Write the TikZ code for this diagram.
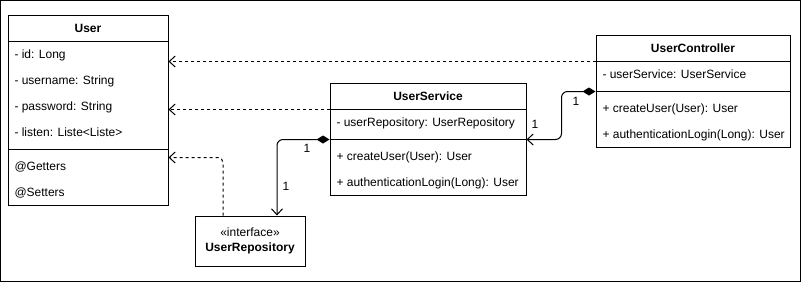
\documentclass[tikz,border=0pt]{standalone}
\usepackage{fontspec}
\setmainfont{Liberation Sans}
\usetikzlibrary{arrows.meta}

\begin{document}
\begin{tikzpicture}[x=1pt, y=-1pt, line width=1pt,
    every node/.style={font=\fontsize{12}{15}\selectfont},
    classhead/.style={draw, minimum height=26pt, inner sep=0pt, font=\fontsize{12}{15}\selectfont\bfseries},
    classbody/.style={draw, inner sep=0pt},
    member/.style={anchor=west, inner sep=0pt, text height=10.5pt, text depth=2.5pt},
    mult/.style={inner sep=0pt},
    depends/.style={dash pattern=on 3pt off 3pt, -{Straight Barb[length=6pt,width=11pt]}, rounded corners=5pt},
    owns/.style={{Diamond[length=13pt,width=8pt]}-{Straight Barb[length=6pt,width=11pt]}, rounded corners=6pt}
]
\useasboundingbox (0,0) rectangle (801,282);
\draw (0.5,0.5) rectangle (800.5,281.5);

\node[classhead, minimum width=160pt] (user) at (88,28) {User};
\node[classbody, minimum width=160pt, minimum height=108pt] (user-attr) at (88,95) {};
\node[classbody, minimum width=160pt, minimum height=56pt] (user-meth) at (88,177) {};
\node[member] (user-id) at (14,54) {- id: Long};
\node[member] (user-name) at (14,80) {- username: String};
\node[member] (user-pw) at (14,106) {- password: String};
\node[member] (user-list) at (14,132) {- listen: Liste<Liste>};
\node[member] (user-get) at (14,166) {@Getters};
\node[member] (user-set) at (14,192) {@Setters};

\node[classhead, minimum width=196pt] (svc) at (428,96) {UserService};
\node[classbody, minimum width=196pt, minimum height=30pt] (svc-attr) at (428,124) {};
\node[classbody, minimum width=196pt, minimum height=56pt] (svc-meth) at (428,167) {};
\node[member] (svc-repo) at (336,122) {- userRepository: UserRepository};
\node[member] (svc-create) at (336,156) {+ createUser(User): User};
\node[member] (svc-login) at (336,182) {+ authenticationLogin(Long): User};

\node[classhead, minimum width=194pt] (ctrl) at (693,48) {UserController};
\node[classbody, minimum width=194pt, minimum height=30pt] (ctrl-attr) at (693,76) {};
\node[classbody, minimum width=194pt, minimum height=56pt] (ctrl-meth) at (693,119) {};
\node[member] (ctrl-svc) at (602,74) {- userService: UserService};
\node[member] (ctrl-create) at (602,108) {+ createUser(User): User};
\node[member] (ctrl-login) at (602,134) {+ authenticationLogin(Long): User};

\node[draw, minimum width=110pt, minimum height=50pt, align=center] (repo) at (250,241)
    {«interface»\\\textbf{UserRepository}};

\draw[depends] (ctrl.south west) -- (ctrl.south west -| user-attr.east);
\draw[depends] (svc.south west) -- (svc.south west -| user-attr.east);
\draw[depends] ([xshift=-27pt]repo.north) |- ([yshift=-9pt]user-meth.north east);

\draw[owns] (svc-attr.south west) -| ([xshift=27pt]repo.north);
\draw[owns] (ctrl-attr.south west) -- ++(-34,0) |- (svc-attr.south east);

\node[mult] (svc-own-one) at (307,148) {1};
\node[mult] (repo-one) at (286,186) {1};
\node[mult] (ctrl-own-one) at (576,101) {1};
\node[mult] (svc-one) at (535,124) {1};

\end{tikzpicture}
\end{document}
